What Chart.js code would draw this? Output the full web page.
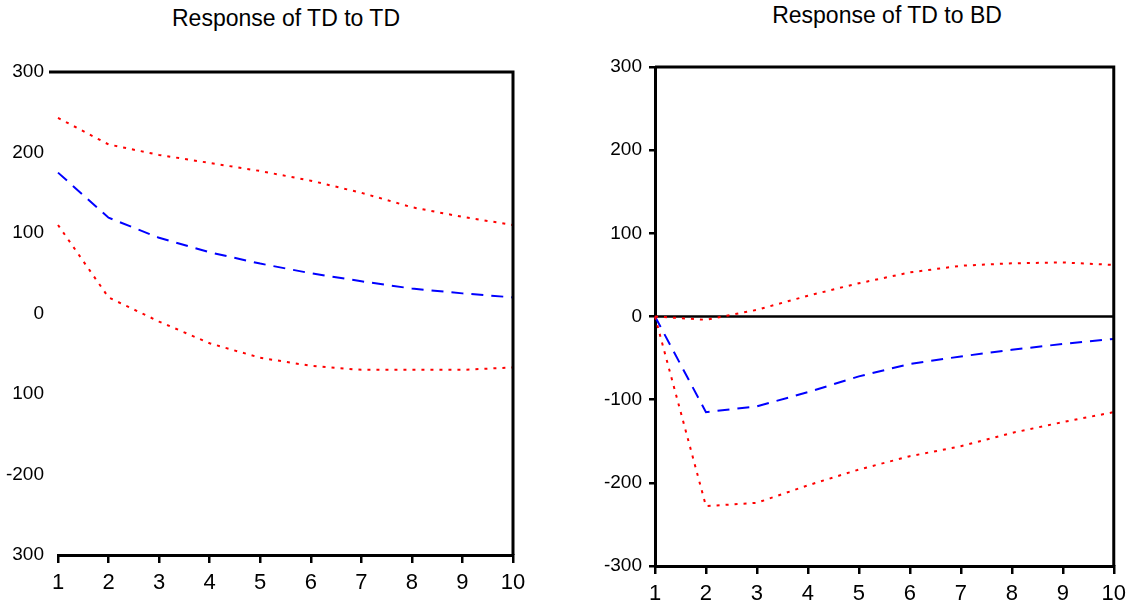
<!DOCTYPE html>
<html>
<head>
<meta charset="utf-8">
<script src="https://cdn.jsdelivr.net/npm/chart.js@4.4.1/dist/chart.umd.min.js"></script>
<style>
  body { margin: 0; background: #fff; }
  #page { position: relative; width: 1133px; height: 610px; overflow: hidden; background: #fff; }
  .panel { position: absolute; top: 0; }
  .title {
    position: absolute;
    font-family: 'Liberation Sans', Arial, sans-serif;
    font-size: 23px;
    color: #000;
    white-space: nowrap;
    transform: translateX(-50%);
  }
</style>
</head>
<body>
<div id="page">
  <div class="title" style="left:286px; top:5px;">Response of TD to TD</div>
  <div class="title" style="left:887px; top:2px;">Response of TD to BD</div>
  <div class="panel" style="left:0; width:533px; height:610px;"><canvas id="left" width="533" height="610"></canvas></div>
  <div class="panel" style="left:580px; width:553px; height:610px;"><canvas id="right" width="553" height="610"></canvas></div>
</div>
<script>
  // horizon periods
  const periods = ["1", "2", "3", "4", "5", "6", "7", "8", "9", "10"];

  // y ticks (left panel lost some minus signs in the original)
  const yTickValues = [300, 200, 100, 0, -100, -200, -300];
  const leftTickText = ["300", "200", "100", "0", "100", "-200", "300"];
  const rightTickText = ["300", "200", "100", "0", "-100", "-200", "-300"];

  // Response of TD to TD
  const tdTdResponse = [175, 119, 94, 76, 62, 50, 40, 31, 25, 20];
  const tdTdUpper = [243, 210, 197, 187, 177, 165, 150, 132, 120, 110];
  const tdTdLower = [110, 20, -10, -37, -55, -65, -70, -70, -70, -67];

  // Response of TD to BD
  const tdBdResponse = [0, -115, -108, -91, -72, -57, -48, -40, -33, -27];
  const tdBdUpper = [0, -4, 8, 25, 40, 53, 61, 64, 65, 62];
  const tdBdLower = [0, -228, -224, -203, -184, -168, -156, -140, -127, -115];

  const tickFont = { family: "'Liberation Sans', Arial, sans-serif", size: 19 };
  const xFont = { family: "'Liberation Sans', Arial, sans-serif", size: 22 };

  // frame lines (top / right) and zero line
  const framePlugin = {
    id: "frame",
    beforeDatasetsDraw(chart, args, opts) {
      if (!opts.zeroLine) return;
      const { ctx, chartArea } = chart;
      const y0 = chart.scales.y.getPixelForValue(0);
      ctx.save();
      ctx.strokeStyle = "#000";
      ctx.lineWidth = 2.5;
      ctx.beginPath();
      ctx.moveTo(chartArea.left, y0);
      ctx.lineTo(chartArea.right, y0);
      ctx.stroke();
      ctx.restore();
    },
    afterDraw(chart, args, opts) {
      const { ctx, chartArea } = chart;
      ctx.save();
      ctx.strokeStyle = "#000";
      ctx.lineWidth = 3;
      ctx.beginPath();
      ctx.moveTo(chartArea.left - (opts.topOverhang || 0), chartArea.top);
      ctx.lineTo(chartArea.right, chartArea.top);
      ctx.lineTo(chartArea.right, chartArea.bottom);
      ctx.stroke();
      ctx.restore();
    }
  };

  function series(data, color, dash) {
    return {
      data: data,
      borderColor: color,
      borderWidth: 2,
      borderDash: dash,
      pointRadius: 0,
      tension: 0,
      fill: false
    };
  }

  function makeChart(id, datasets, cfg) {
    return new Chart(document.getElementById(id), {
      type: "line",
      data: { labels: periods, datasets: datasets },
      plugins: [framePlugin],
      options: {
        responsive: false,
        animation: false,
        layout: { padding: cfg.padding },
        plugins: {
          legend: { display: false },
          tooltip: { enabled: false },
          frame: { zeroLine: cfg.zeroLine, topOverhang: cfg.topOverhang }
        },
        scales: {
          x: {
            type: "category",
            offset: false,
            afterFit: (s) => { s.height = cfg.xHeight; },
            border: { display: true, color: "#000", width: 3 },
            grid: { drawOnChartArea: false, drawTicks: true, tickLength: 8, color: "#000", lineWidth: 2.5 },
            ticks: { color: "#000", font: xFont, padding: cfg.xPad, maxRotation: 0, autoSkip: false }
          },
          y: {
            min: -300,
            max: 300,
            afterFit: (s) => { s.width = cfg.yWidth; },
            afterBuildTicks: (s) => { s.ticks = yTickValues.map(v => ({ value: v })); },
            border: { display: cfg.leftBorder, color: "#000", width: 3 },
            grid: { drawOnChartArea: false, drawTicks: cfg.leftBorder, tickLength: 6, color: "#000", lineWidth: 2.5 },
            ticks: {
              color: "#000",
              font: tickFont,
              padding: cfg.yPad,
              callback: (v) => cfg.tickText[yTickValues.indexOf(v)]
            }
          }
        }
      }
    });
  }

  makeChart("left", [
    series(tdTdUpper, "#ff0000", [3, 6]),
    series(tdTdLower, "#ff0000", [3, 6]),
    series(tdTdResponse, "#0000ff", [12, 8])
  ], {
    padding: { left: 0, top: 72, right: 20, bottom: 0 },
    yWidth: 58, xHeight: 55, yPad: 14, xPad: 7, leftBorder: false,
    tickText: leftTickText, zeroLine: false, topOverhang: 9
  });

  makeChart("right", [
    series(tdBdUpper, "#ff0000", [3, 6]),
    series(tdBdLower, "#ff0000", [3, 6]),
    series(tdBdResponse, "#0000ff", [12, 8])
  ], {
    padding: { left: 0, top: 67, right: 11, bottom: 0 },
    yWidth: 75, xHeight: 44, yPad: 7, xPad: 7, leftBorder: true,
    tickText: rightTickText, zeroLine: true, topOverhang: 0
  });
</script>
</body>
</html>
